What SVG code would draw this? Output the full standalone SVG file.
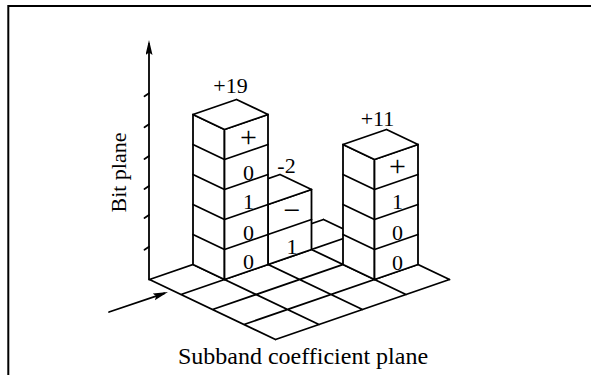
<svg xmlns="http://www.w3.org/2000/svg" width="591" height="375" viewBox="0 0 591 375">
<defs>
<style>
.ln{fill:none;stroke:#000;stroke-width:1.8;stroke-linejoin:round;stroke-linecap:round}
.face{fill:#fff;stroke:#000;stroke-width:1.8;stroke-linejoin:round}
.t{font-family:"Liberation Serif","Times New Roman",serif;font-size:22px;fill:#000;text-anchor:middle}
.sg{font-size:30px}
</style>
<marker id="ah" markerUnits="userSpaceOnUse" markerWidth="16" markerHeight="8" refX="11" refY="3.5" orient="auto">
<path d="M0,0 L15,3.5 L0,7 L2.5,3.5 z" fill="#000"/>
</marker>
</defs>
<rect x="0" y="0" width="591" height="375" fill="#fff"/>
<g id="frame">
<path d="M8.3,375 L8.3,6 L591,6" fill="none" stroke="#000" stroke-width="2"/>
</g>
<g id="floor">
<path class="ln" d="M149.5,279.5 L275.5,339.5 M193,264.5 L319,324.5 M236.5,249.5 L362.5,309.5 M280,234.5 L406,294.5 M323.5,219.5 L449.5,279.5 M149.5,279.5 L323.5,219.5 M181,294.5 L355,234.5 M212.5,309.5 L386.5,249.5 M244,324.5 L418,264.5 M275.5,339.5 L449.5,279.5"/>
</g>
<g id="axis-ticks">
<path class="ln" d="M149,93.3 l-4.5,3 M149,124.3 l-4.5,3 M149,156 l-4.5,3 M149,186 l-4.5,3 M149,215 l-4.5,3 M149,246.7 l-4.5,3"/>
</g>
<g id="tower-m2">
<polygon class="face" points="236.5,249.5 268,264.5 268,204.5 236.5,189.5"/>
<polygon class="face" points="268,264.5 311.5,249.5 311.5,189.5 268,204.5"/>
<polygon class="face" points="236.5,189.5 268,204.5 311.5,189.5 280,174.5"/>
<polyline class="ln" points="236.5,219.5 268,234.5 311.5,219.5"/>
<text class="t sg" x="292" y="220">−</text>
<text class="t" x="292" y="254">1</text>
<text class="t" x="286.5" y="173">-2</text>
</g>
<g id="tower-19">
<polygon class="face" points="193,264.5 224.5,279.5 224.5,129.5 193,114.5"/>
<polygon class="face" points="224.5,279.5 268,264.5 268,114.5 224.5,129.5"/>
<polygon class="face" points="193,114.5 224.5,129.5 268,114.5 236.5,99.5"/>
<polyline class="ln" points="193,234.5 224.5,249.5 268,234.5"/>
<polyline class="ln" points="193,204.5 224.5,219.5 268,204.5"/>
<polyline class="ln" points="193,174.5 224.5,189.5 268,174.5"/>
<polyline class="ln" points="193,144.5 224.5,159.5 268,144.5"/>
<text class="t sg" x="248.5" y="147">+</text>
<text class="t" x="248.5" y="179.5">0</text>
<text class="t" x="248.5" y="209">1</text>
<text class="t" x="248.5" y="239.5">0</text>
<text class="t" x="248.5" y="269">0</text>
<text class="t" x="230.5" y="93.3">+19</text>
</g>
<g id="tower-11">
<polygon class="face" points="343,264.5 374.5,279.5 374.5,159.5 343,144.5"/>
<polygon class="face" points="374.5,279.5 418,264.5 418,144.5 374.5,159.5"/>
<polygon class="face" points="343,144.5 374.5,159.5 418,144.5 386.5,129.5"/>
<polyline class="ln" points="343,234.5 374.5,249.5 418,234.5"/>
<polyline class="ln" points="343,204.5 374.5,219.5 418,204.5"/>
<polyline class="ln" points="343,174.5 374.5,189.5 418,174.5"/>
<text class="t sg" x="397.5" y="176">+</text>
<text class="t" x="397.5" y="208.5">1</text>
<text class="t" x="397.5" y="239.5">0</text>
<text class="t" x="397.5" y="269.5">0</text>
<text class="t" x="377.5" y="126">+11</text>
</g>
<g id="connectors">
<line class="ln" x1="149" y1="279.5" x2="149" y2="44" marker-end="url(#ah)"/>
<line class="ln" x1="109" y1="312" x2="164.2" y2="293.3" marker-end="url(#ah)"/>
</g>
<g id="labels">
<text class="t" x="126" y="172.5" transform="rotate(-90 126 172.5)">Bit plane</text>
<text class="t" x="303" y="363.5" style="font-size:24px">Subband coefficient plane</text>
</g>
</svg>
